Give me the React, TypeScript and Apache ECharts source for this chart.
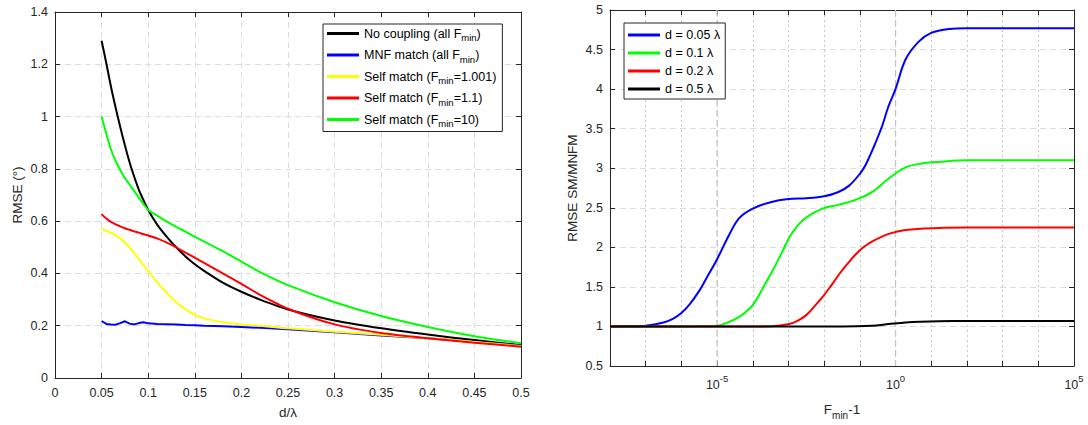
import React, { useEffect, useRef } from "react";
import * as echarts from "echarts";

// ---------- Left chart data ----------
const dLambda = [0.05, 0.055, 0.06, 0.065, 0.07, 0.075, 0.08, 0.085, 0.09, 0.095, 0.1, 0.11, 0.12, 0.13, 0.14, 0.15, 0.16, 0.18, 0.2, 0.22, 0.25, 0.3, 0.35, 0.4, 0.45, 0.5];
const noCoupling = [1.29, 1.205, 1.115, 1.035, 0.96, 0.89, 0.825, 0.77, 0.72, 0.68, 0.643, 0.585, 0.54, 0.5, 0.465, 0.435, 0.41, 0.365, 0.33, 0.3, 0.262, 0.22, 0.19, 0.166, 0.145, 0.125];
const mnfMatch = [0.218, 0.207, 0.205, 0.204, 0.21, 0.217, 0.208, 0.205, 0.21, 0.213, 0.209, 0.207, 0.206, 0.205, 0.203, 0.202, 0.2, 0.198, 0.195, 0.192, 0.186, 0.175, 0.163, 0.152, 0.138, 0.125];
const selfMatch1001 = [0.57, 0.563, 0.555, 0.546, 0.535, 0.518, 0.5, 0.478, 0.455, 0.432, 0.41, 0.365, 0.325, 0.29, 0.262, 0.242, 0.228, 0.213, 0.205, 0.2, 0.19, 0.177, 0.165, 0.152, 0.138, 0.122];
const selfMatch11 = [0.627, 0.61, 0.597, 0.588, 0.58, 0.573, 0.567, 0.561, 0.556, 0.55, 0.545, 0.533, 0.518, 0.5, 0.48, 0.46, 0.44, 0.4, 0.36, 0.318, 0.265, 0.205, 0.172, 0.152, 0.135, 0.12];
const selfMatch10 = [1.0, 0.935, 0.875, 0.83, 0.796, 0.765, 0.74, 0.715, 0.69, 0.665, 0.643, 0.62, 0.598, 0.578, 0.56, 0.54, 0.522, 0.485, 0.445, 0.405, 0.355, 0.29, 0.237, 0.195, 0.16, 0.133];

const leftNames = ["No coupling", "MNF match", "Self match 1.001", "Self match 1.1", "Self match 10"];
const leftLegendText = [
  "{t|No coupling (all F}{s|min}{t|)}",
  "{t|MNF match (all F}{s|min}{t|)}",
  "{t|Self match (F}{s|min}{t|=1.001)}",
  "{t|Self match (F}{s|min}{t|=1.1)}",
  "{t|Self match (F}{s|min}{t|=10)}",
];
const leftColors = ["#000000", "#0000ff", "#ffff00", "#ff0000", "#00ff00"];
const leftValues = [noCoupling, mnfMatch, selfMatch1001, selfMatch11, selfMatch10];

// ---------- Right chart data (x = log10(Fmin - 1)) ----------
const d005E = [-8, -7.5, -7, -6.5, -6.24, -6, -5.77, -5.5, -5.31, -5, -4.66, -4.38, -4, -3.5, -3, -2.5, -2, -1.6, -1.3, -1, -0.84, -0.6, -0.37, -0.2, 0, 0.28, 0.65, 1, 1.5, 2, 3, 5];
const d005V = [1.0, 1.003, 1.01, 1.05, 1.096, 1.17, 1.28, 1.45, 1.6, 1.85, 2.16, 2.37, 2.49, 2.57, 2.61, 2.62, 2.645, 2.7, 2.78, 2.93, 3.04, 3.28, 3.54, 3.78, 4.0, 4.375, 4.6, 4.71, 4.76, 4.77, 4.77, 4.77];
const d01E = [-8, -6, -5.5, -5, -4.7, -4.38, -4.1, -3.91, -3.7, -3.45, -3.2, -2.98, -2.75, -2.51, -2.05, -1.58, -1.12, -0.65, -0.19, 0.28, 0.74, 1.21, 2, 5];
const d01V = [1.0, 1.0, 1.003, 1.01, 1.05, 1.12, 1.22, 1.33, 1.5, 1.7, 1.92, 2.12, 2.27, 2.375, 2.49, 2.54, 2.6, 2.7, 2.87, 3.01, 3.06, 3.08, 3.1, 3.1];
const d02E = [-8, -4, -3.45, -2.98, -2.75, -2.51, -2.3, -2.05, -1.8, -1.58, -1.35, -1.12, -0.9, -0.65, -0.19, 0.28, 1.21, 2, 5];
const d02V = [1.0, 1.0, 1.003, 1.03, 1.07, 1.14, 1.24, 1.37, 1.52, 1.66, 1.79, 1.91, 2.0, 2.075, 2.17, 2.22, 2.245, 2.25, 2.25];
const d05E = [-8, -1.5, -0.65, -0.19, 0.28, 0.7, 1.21, 2, 5];
const d05V = [1.0, 1.0, 1.01, 1.03, 1.05, 1.06, 1.066, 1.068, 1.068];

const rightNames = ["d = 0.05 λ", "d = 0.1 λ", "d = 0.2 λ", "d = 0.5 λ"];
const rightColors = ["#0000ff", "#00ff00", "#ff0000", "#000000"];
const rightE = [d005E, d01E, d02E, d05E];
const rightV = [d005V, d01V, d02V, d05V];
const majorDecades = [-5, 0];

const FONT = "Liberation Sans, Arial, Helvetica, sans-serif";
const AXIS_COLOR = "#262626";
const GRID_COLOR = "#dcdcdc";
const TICK_FS = 12.5;
const NAME_FS = 13.5;

export default function App() {
  const ref = useRef<HTMLDivElement>(null);

  useEffect(() => {
    if (!ref.current) return;
    const chart = echarts.init(ref.current, undefined, { renderer: "svg" });

    const axisLine = { show: true, onZero: false, lineStyle: { color: AXIS_COLOR, width: 1 } };
    const tickStyle = { show: true, inside: true, length: 5, lineStyle: { color: AXIS_COLOR } };
    const labelStyle = { color: AXIS_COLOR, fontSize: TICK_FS, fontFamily: FONT };
    const dashed = { show: true, lineStyle: { color: GRID_COLOR, type: [6, 4] as any, width: 1 } };

    const series: any[] = [];
    leftNames.forEach((n, i) => {
      series.push({
        name: n,
        type: "line",
        xAxisIndex: 0,
        yAxisIndex: 0,
        data: dLambda.map((x, j) => [x, leftValues[i][j]]),
        symbol: "none",
        smooth: i === 1 ? false : 0.25,
        lineStyle: { color: leftColors[i], width: 2 },
        itemStyle: { color: leftColors[i] },
        z: 3,
      });
    });
    // major decade grid lines (dashed) on the log-scaled axis
    majorDecades.forEach((e) => {
      series.push({
        type: "line",
        xAxisIndex: 2,
        yAxisIndex: 2,
        data: [
          [e, 0.5],
          [e, 5],
        ],
        symbol: "none",
        silent: true,
        z: 1,
        lineStyle: { color: "#c4c4c4", type: [6, 4], width: 1.3 },
        itemStyle: { color: "#c4c4c4" },
      });
    });
    rightNames.forEach((n, i) => {
      series.push({
        name: n,
        type: "line",
        xAxisIndex: 2,
        yAxisIndex: 2,
        data: rightE[i].map((x, j) => [x, rightV[i][j]]),
        symbol: "none",
        smooth: 0.35,
        lineStyle: { color: rightColors[i], width: 2 },
        itemStyle: { color: rightColors[i] },
        z: 3,
      });
    });

    chart.setOption({
      animation: false,
      backgroundColor: "#ffffff",
      textStyle: { fontFamily: FONT },
      grid: [
        { left: 55, top: 12, right: 567, bottom: 47, show: false },
        { left: 610, top: 10, right: 14, bottom: 57, show: false },
      ],
      legend: [
        {
          data: leftNames,
          orient: "vertical",
          left: 323,
          top: 24,
          itemWidth: 32,
          itemHeight: 3,
          itemGap: 6,
          icon: "rect",
          padding: [3, 6, 3, 4],
          borderColor: AXIS_COLOR,
          borderWidth: 1,
          backgroundColor: "#ffffff",
          selectedMode: false,
          formatter: (name: string) => leftLegendText[leftNames.indexOf(name)],
          textStyle: {
            fontFamily: FONT,
            rich: {
              t: { fontSize: 12.5, color: "#000", fontFamily: FONT, lineHeight: 18, verticalAlign: "middle" },
              s: { fontSize: 9.5, color: "#000", fontFamily: FONT, lineHeight: 18, verticalAlign: "bottom" },
            },
          },
        },
        {
          data: rightNames,
          orient: "vertical",
          left: 624,
          top: 23,
          itemWidth: 32,
          itemHeight: 3,
          itemGap: 4,
          icon: "rect",
          padding: [5, 5, 3, 4],
          borderColor: AXIS_COLOR,
          borderWidth: 1,
          backgroundColor: "#ffffff",
          selectedMode: false,
          textStyle: { fontFamily: FONT, fontSize: 12.5, color: "#000", lineHeight: 14 },
        },
      ],
      xAxis: [
        {
          type: "value",
          gridIndex: 0,
          position: "bottom",
          min: 0,
          max: 0.5,
          interval: 0.05,
          axisLine,
          axisTick: tickStyle,
          axisLabel: { ...labelStyle, margin: 8 },
          splitLine: dashed,
          name: "d/λ",
          nameLocation: "middle",
          nameGap: 27,
          nameTextStyle: { color: AXIS_COLOR, fontSize: NAME_FS, fontFamily: FONT },
        },
        {
          type: "value",
          gridIndex: 0,
          position: "top",
          min: 0,
          max: 0.5,
          interval: 0.05,
          axisLine,
          axisTick: tickStyle,
          axisLabel: { show: false },
          splitLine: { show: false },
        },
        {
          type: "value",
          gridIndex: 1,
          position: "bottom",
          min: -8,
          max: 5,
          interval: 1,
          axisLine,
          axisTick: tickStyle,
          axisLabel: {
            ...labelStyle,
            margin: 7,
            formatter: (v: number) => (Math.round(v) % 5 === 0 ? `{b|10}{p|${Math.round(v)}}` : ""),
            rich: {
              b: { fontSize: TICK_FS, color: AXIS_COLOR, fontFamily: FONT, lineHeight: 18, verticalAlign: "bottom" },
              p: { fontSize: 9.5, color: AXIS_COLOR, fontFamily: FONT, lineHeight: 18, verticalAlign: "top" },
            },
          },
          splitLine: { show: true, lineStyle: { color: "#c8c8c8", type: [2, 3], width: 1 } },
          name: "{t|F}{s|min}{t|-1}",
          nameLocation: "middle",
          nameGap: 32,
          nameTextStyle: {
            rich: {
              t: { fontSize: NAME_FS, color: AXIS_COLOR, fontFamily: FONT, lineHeight: 22, verticalAlign: "middle" },
              s: { fontSize: 10, color: AXIS_COLOR, fontFamily: FONT, lineHeight: 22, verticalAlign: "bottom" },
            },
          },
        },
        {
          type: "value",
          gridIndex: 1,
          position: "top",
          min: -8,
          max: 5,
          interval: 1,
          axisLine,
          axisTick: tickStyle,
          axisLabel: { show: false },
          splitLine: { show: false },
        },
      ],
      yAxis: [
        {
          type: "value",
          gridIndex: 0,
          position: "left",
          min: 0,
          max: 1.4,
          interval: 0.2,
          axisLine,
          axisTick: tickStyle,
          axisLabel: { ...labelStyle, margin: 7 },
          splitLine: dashed,
          name: "RMSE (°)",
          nameLocation: "middle",
          nameGap: 31,
          nameTextStyle: { color: AXIS_COLOR, fontSize: NAME_FS, fontFamily: FONT },
        },
        {
          type: "value",
          gridIndex: 0,
          position: "right",
          min: 0,
          max: 1.4,
          interval: 0.2,
          axisLine,
          axisTick: tickStyle,
          axisLabel: { show: false },
          splitLine: { show: false },
        },
        {
          type: "value",
          gridIndex: 1,
          position: "left",
          min: 0.5,
          max: 5,
          interval: 0.5,
          axisLine,
          axisTick: tickStyle,
          axisLabel: { ...labelStyle, margin: 7 },
          splitLine: dashed,
          name: "RMSE SM/MNFM",
          nameLocation: "middle",
          nameGap: 31,
          nameTextStyle: { color: AXIS_COLOR, fontSize: NAME_FS, fontFamily: FONT },
        },
        {
          type: "value",
          gridIndex: 1,
          position: "right",
          min: 0.5,
          max: 5,
          interval: 0.5,
          axisLine,
          axisTick: tickStyle,
          axisLabel: { show: false },
          splitLine: { show: false },
        },
      ],
      series,
    });

    return () => chart.dispose();
  }, []);

  return (
    <div
      ref={ref}
      style={{ position: "fixed", left: 0, top: 0, width: 1088, height: 425, background: "#fff" }}
    />
  );
}
